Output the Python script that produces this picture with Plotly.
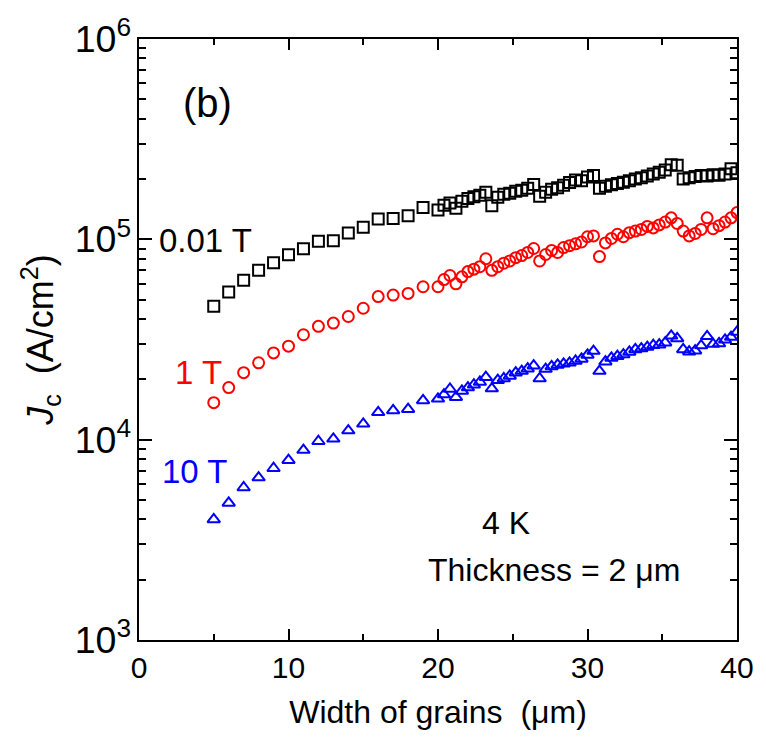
import plotly.graph_objects as go

# ---- data ----
x_sparse = [5, 6, 7, 8, 9, 10, 11, 12, 13, 14, 15, 16, 17, 18, 19]
x_dense = [20.0, 20.4, 20.8, 21.2, 21.6, 22.0, 22.4, 22.8, 23.2, 23.6,
           24.0, 24.4, 24.8, 25.2, 25.6, 26.0, 26.4, 26.8, 27.2, 27.6,
           28.0, 28.4, 28.8, 29.2, 29.6, 30.0, 30.4, 30.8, 31.2, 31.6,
           32.0, 32.4, 32.8, 33.2, 33.6, 34.0, 34.4, 34.8, 35.2, 35.6,
           36.0, 36.4, 36.8, 37.2, 37.6, 38.0, 38.4, 38.8, 39.2, 39.6, 40.0]

jc_001T_sparse = [46.4e3, 54.6e3, 62.5e3, 70.0e3, 76.4e3, 83.7e3, 89.8e3, 97.7e3,
                  98.4e3, 107.7e3, 114.8e3, 126.2e3, 127e3, 131e3, 144e3]
jc_001T_dense = [140e3, 148e3, 152e3, 143e3, 155e3, 160e3, 163e3, 166e3, 172e3, 147e3,
                 162e3, 168e3, 170e3, 174e3, 176e3, 180e3, 188e3, 164e3, 172e3, 178e3,
                 181e3, 186e3, 192e3, 198e3, 196e3, 205e3, 208e3, 180e3, 184e3, 187e3,
                 190e3, 193e3, 196e3, 200e3, 203e3, 207e3, 212e3, 216e3, 222e3, 236e3,
                 234e3, 200e3, 203e3, 206e3, 208e3, 207e3, 210e3, 209e3, 212e3, 225e3, 215e3]

jc_1T_sparse = [15.3e3, 18.2e3, 21.6e3, 24.2e3, 27.1e3, 29.3e3, 33.4e3, 36.8e3,
                38.2e3, 41.2e3, 45.3e3, 51.8e3, 52.7e3, 53.7e3, 58.0e3]
jc_1T_dense = [58e3, 63e3, 66e3, 60e3, 65e3, 69e3, 71e3, 73e3, 80e3, 70e3,
               73e3, 76e3, 78e3, 81e3, 83e3, 86e3, 90e3, 78e3, 84e3, 88e3,
               86e3, 91e3, 93e3, 95e3, 97e3, 103e3, 104e3, 82e3, 96e3, 101e3,
               106e3, 103e3, 108e3, 110e3, 112e3, 116e3, 114e3, 118e3, 122e3, 128e3,
               120e3, 110e3, 104e3, 107e3, 112e3, 128e3, 113e3, 117e3, 122e3, 128e3, 136e3]

jc_10T_sparse = [4.0e3, 4.83e3, 5.77e3, 6.47e3, 7.2e3, 7.9e3, 8.87e3, 9.82e3,
                 10.1e3, 11.1e3, 12.0e3, 13.7e3, 14.0e3, 14.2e3, 15.7e3]
jc_10T_dense = [16.0e3, 16.8e3, 17.9e3, 16.3e3, 17.5e3, 18.2e3, 18.8e3, 19.4e3, 20.5e3, 18.0e3,
                19.8e3, 20.2e3, 20.8e3, 21.6e3, 22.0e3, 22.6e3, 23.4e3, 20.2e3, 22.5e3, 23.2e3,
                23.6e3, 23.9e3, 24.2e3, 24.7e3, 25.3e3, 26.5e3, 27.7e3, 22.0e3, 24.5e3, 25.6e3,
                26.1e3, 26.6e3, 27.4e3, 28.2e3, 28.5e3, 29.0e3, 29.6e3, 29.8e3, 30.5e3, 33.0e3,
                32.0e3, 28.2e3, 27.5e3, 27.8e3, 29.5e3, 32.8e3, 30.0e3, 30.2e3, 31.5e3, 32.5e3, 34.5e3]

x_all = x_sparse + x_dense
series = [
    ("0.01 T", jc_001T_sparse + jc_001T_dense, "black", "square-open"),
    ("1 T", jc_1T_sparse + jc_1T_dense, "#ff0000", "circle-open"),
    ("10 T", jc_10T_sparse + jc_10T_dense, "#0000ff", "triangle-up-open"),
]

FONT = "Liberation Sans, Arial, sans-serif"

fig = go.Figure()
for name, ys, col, sym in series:
    fig.add_trace(go.Scatter(
        x=x_all, y=ys, mode="markers", name=name,
        marker=dict(symbol=sym, size=11, color=col, line=dict(width=2, color=col)),
        showlegend=False,
    ))

# plot-area geometry (pixels)
L, R, T, B = 139, 742, 33, 640
W, H = 766, 740


def px(xp, yp):
    return (xp - L) / (R - L), (B - yp) / (B - T)


annos = [
    ("(b)", 208, 98, "black", 40),
    ("0.01 T", 206, 237, "black", 33),
    ("1 T", 199, 370, "#ff0000", 33),
    ("10 T", 195, 470, "#0000ff", 33),
    ("4 K", 509, 522, "black", 32),
    ("Thickness = 2 μm", 557, 569, "black", 32),
]
for txt, xp, yp, col, sz in annos:
    ax, ay = px(xp, yp)
    fig.add_annotation(x=ax, y=ay, xref="paper", yref="paper", text=txt,
                       showarrow=False, font=dict(family=FONT, size=sz, color=col),
                       xanchor="center", yanchor="middle")

axis_common = dict(
    showline=True, linecolor="black", linewidth=2, mirror="ticks",
    ticks="inside", tickcolor="black", tickwidth=2, showgrid=False, zeroline=False,
    tickfont=dict(family=FONT, size=30, color="black"),
)

fig.update_xaxes(
    range=[0, 40], tick0=0, dtick=10, ticklen=11,
    minor=dict(ticks="inside", dtick=5, ticklen=6, tickwidth=2, tickcolor="black"),
    title=dict(text="Width of grains  (μm)", font=dict(family=FONT, size=32, color="black"), standoff=18),
    **axis_common,
)
fig.update_yaxes(
    type="log", range=[3, 6], dtick=1, exponentformat="power", ticklen=13,
    minor=dict(ticks="inside", ticklen=7, tickwidth=2, tickcolor="black"),
    title=dict(text="<i>J</i><sub>c</sub>  (A/cm<sup>2</sup>)", font=dict(family=FONT, size=36, color="black"), standoff=10),
    **axis_common,
)

fig.update_layout(
    width=W, height=H,
    margin=dict(l=L, r=W - R, t=T, b=H - B),
    paper_bgcolor="white", plot_bgcolor="white",
    font=dict(family=FONT, color="black"),
)

fig.write_html("out.html")
